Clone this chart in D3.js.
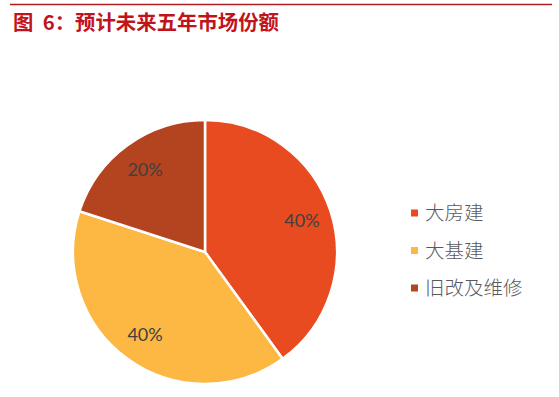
<!DOCTYPE html>
<html>
<head>
<meta charset="utf-8">
<script src="https://cdn.jsdelivr.net/npm/d3@7"></script>
<style>
  html, body { margin: 0; padding: 0; background: #fff; }
  svg { display: block; }
</style>
</head>
<body>
<div id="chart"></div>
<script>
var categories = ["大房建", "大基建", "旧改及维修"];
var shares = [40, 40, 20];
var colors = ["#E84B1F", "#FDB843", "#B4441F"];
var titleText = "图  6：预计未来五年市场份额";

var width = 559, height = 397;
var cx = 205, cy = 252, radius = 132;

var svg = d3.select("#chart").append("svg")
    .attr("width", width)
    .attr("height", height);

// title rule and title
svg.append("line")
    .attr("x1", 10).attr("x2", 552)
    .attr("y1", 4.5).attr("y2", 4.5)
    .attr("stroke", "#B01C22")
    .attr("stroke-width", 1.3);

svg.append("text")
    .attr("x", 13)
    .attr("y", 30)
    .attr("fill", "#C0141C")
    .attr("font-family", "'Noto Sans CJK SC', sans-serif")
    .attr("font-weight", "bold")
    .attr("font-size", 20.4)
    .style("white-space", "pre")
    .text(titleText);

var pie = d3.pie().sort(null).value(function (d) { return d; });
var arc = d3.arc().innerRadius(0).outerRadius(radius);
var labelArc = d3.arc().innerRadius(102).outerRadius(102);

var g = svg.append("g").attr("transform", "translate(" + cx + "," + cy + ")");
var arcs = pie(shares);

g.selectAll("path")
    .data(arcs)
    .enter()
    .append("path")
    .attr("d", arc)
    .attr("fill", function (d, i) { return colors[i]; })
    .attr("stroke", "#fff")
    .attr("stroke-width", 2.5)
    .attr("stroke-linejoin", "round");

g.selectAll("text")
    .data(arcs)
    .enter()
    .append("text")
    .attr("transform", function (d) { return "translate(" + labelArc.centroid(d) + ")"; })
    .attr("text-anchor", "middle")
    .attr("dy", "0.36em")
    .attr("fill", "#404040")
    .attr("font-family", "Lato, 'Open Sans', sans-serif")
    .attr("font-size", 18)
    .text(function (d) { return d.data + "%"; });

// legend
var legend = svg.append("g").attr("transform", "translate(411,213)");
var rows = legend.selectAll("g")
    .data(categories)
    .enter()
    .append("g")
    .attr("transform", function (d, i) { return "translate(0," + (i * 37.5) + ")"; });

rows.append("rect")
    .attr("x", 0).attr("y", -3.5)
    .attr("width", 7).attr("height", 7)
    .attr("fill", function (d, i) { return colors[i]; });

rows.append("text")
    .attr("x", 14)
    .attr("dy", "0.36em")
    .attr("fill", "#595959")
    .attr("font-family", "'Noto Sans CJK SC', sans-serif")
    .attr("font-weight", 300)
    .attr("font-size", 19.5)
    .text(function (d) { return d; });
</script>
</body>
</html>
